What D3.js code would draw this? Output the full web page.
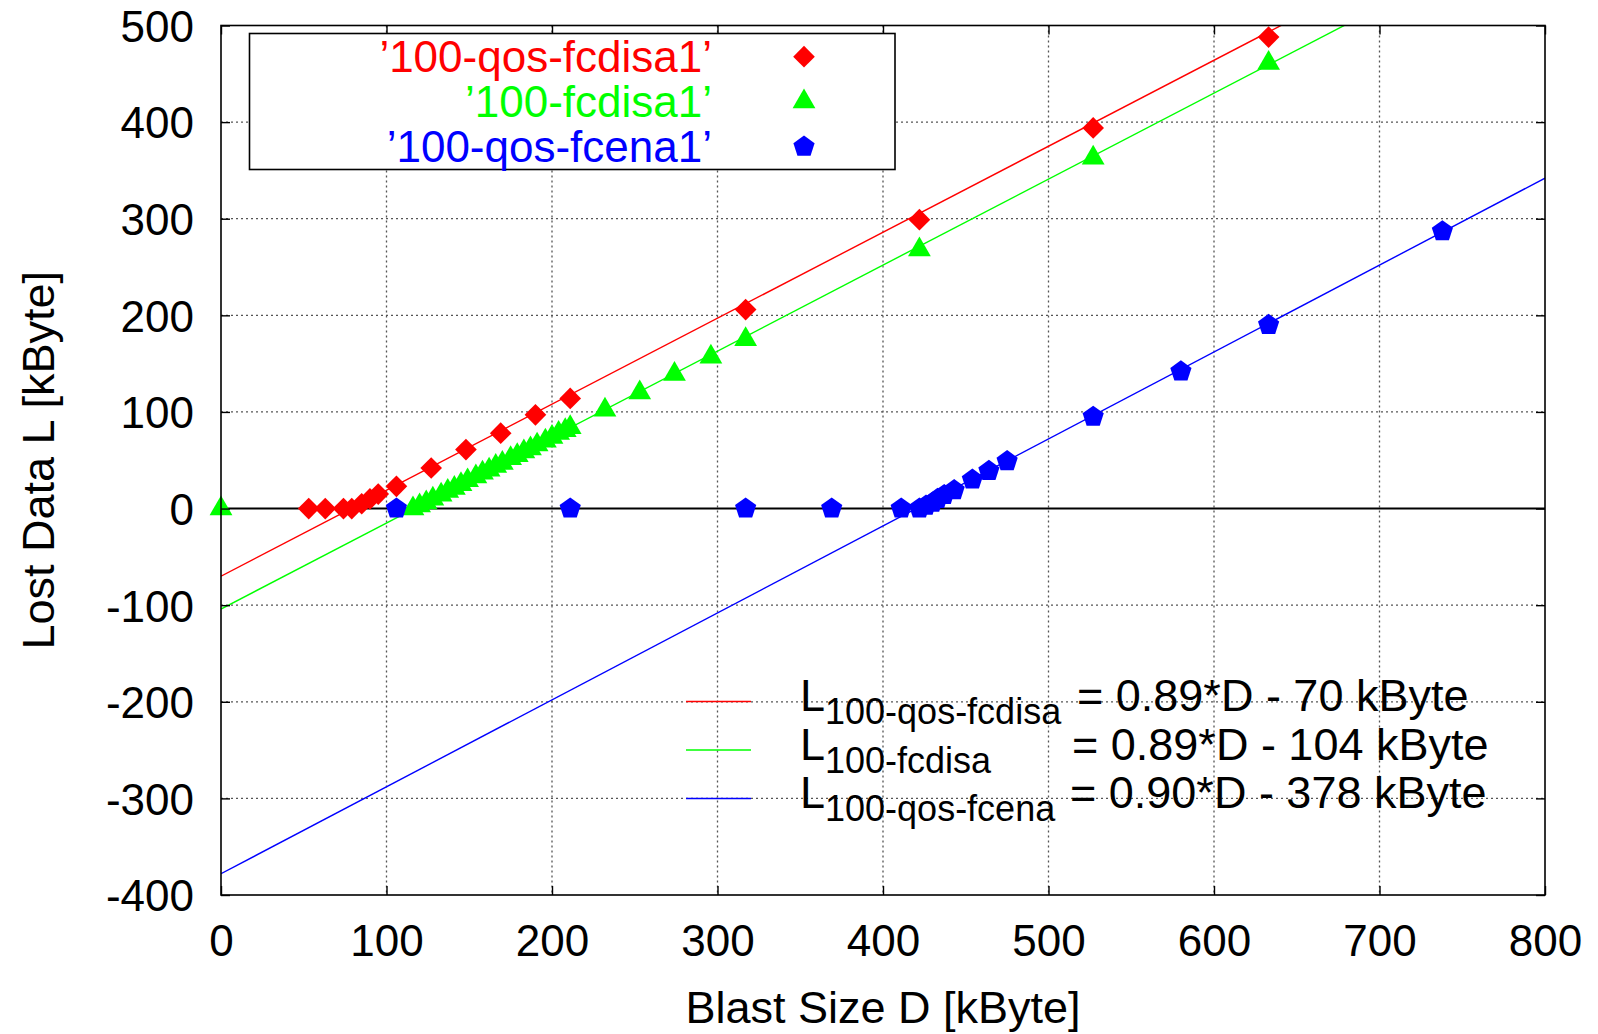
<!DOCTYPE html>
<html>
<head>
<meta charset="utf-8">
<script src="https://cdn.jsdelivr.net/npm/d3@7"></script>
<style>
  body { margin: 0; background: #fff; }
  text { font-family: "Liberation Sans", Arial, Helvetica, sans-serif; }
</style>
</head>
<body>
<div id="chart"></div>
<script>
// data (kByte)
const redX = [53, 63, 74, 79, 85, 90, 95, 106, 127, 148, 169, 190, 211, 317, 422, 527, 633];
const redY = [0, 0, 0, 0, 5, 10, 15, 23, 42, 61, 78, 97, 114, 206, 299, 394, 488];

const greenX = [0, 116, 120, 124, 128, 133, 137, 141, 145, 149, 154, 158, 162, 166, 170, 175, 179,
  183, 187, 191, 196, 200, 204, 208, 211, 232, 253, 274, 296, 317, 422, 527, 633];
const greenY = [0, 0, 3, 6, 10, 14, 18, 21, 25, 29, 33, 37, 40, 44, 47, 52, 55,
  59, 62, 66, 70, 74, 78, 81, 84, 102, 120, 139, 157, 175, 268, 363, 461];

const blueX = [106, 211, 317, 369, 411, 422, 426, 430, 433, 437, 443, 454, 464, 475, 527, 580, 633, 738];
const blueY = [0, 0, 0, 0, 0, 0, 3, 6, 10, 14, 19, 30, 39, 49, 95, 142, 190, 287];

const seriesNames = ["'100-qos-fcdisa1'", "'100-fcdisa1'", "'100-qos-fcena1'"].map(s => s.replace(/'/g, "\u2019"));
const seriesColors = ["#ff0000", "#00ff00", "#0000ff"];

// fitted lines L = a*D + b
const fitSlopes = [0.89, 0.89, 0.90];
const fitOffsets = [-70, -104, -378];
const fitSubs = ["100-qos-fcdisa", "100-fcdisa", "100-qos-fcena"];
const fitTexts = ["= 0.89*D - 70 kByte", "= 0.89*D - 104 kByte", "= 0.90*D - 378 kByte"];

const xTicks = [0, 100, 200, 300, 400, 500, 600, 700, 800];
const yTicks = [-400, -300, -200, -100, 0, 100, 200, 300, 400, 500];

const W = 1598, H = 1034;
const margin = { top: 25.5, right: 53, bottom: 139, left: 221 };

const svg = d3.select("#chart")
  .append("svg")
  .attr("width", W)
  .attr("height", H);

const x = d3.scaleLinear().domain([0, 800]).range([margin.left, W - margin.right]);
const y = d3.scaleLinear().domain([-400, 500]).range([H - margin.bottom, margin.top]);

// symbols
const symDiamond = {
  draw(ctx, size) {
    const h = Math.sqrt(size / 2);
    ctx.moveTo(0, -h); ctx.lineTo(h, 0); ctx.lineTo(0, h); ctx.lineTo(-h, 0); ctx.closePath();
  }
};
const symPentagon = {
  draw(ctx, size) {
    const r = Math.sqrt(size / 2.3776);
    for (let i = 0; i < 5; i++) {
      const a = -Math.PI / 2 + i * 2 * Math.PI / 5;
      if (i === 0) ctx.moveTo(r * Math.cos(a), r * Math.sin(a));
      else ctx.lineTo(r * Math.cos(a), r * Math.sin(a));
    }
    ctx.closePath();
  }
};
const symbolTypes = [symDiamond, d3.symbolTriangle, symPentagon];
const symbolSizes = [235, 225, 295];

svg.append("defs").append("clipPath").attr("id", "plotclip")
  .append("rect")
  .attr("x", x(0)).attr("y", y(500))
  .attr("width", x(800) - x(0)).attr("height", y(-400) - y(500));

// grid
const grid = svg.append("g");
grid.selectAll("line.vgrid")
  .data(xTicks.slice(1, -1))
  .enter().append("line")
  .attr("x1", d => x(d)).attr("x2", d => x(d))
  .attr("y1", y(500)).attr("y2", y(-400))
  .style("stroke", "#555").style("stroke-width", 1.3).style("stroke-dasharray", "2 3");
grid.selectAll("line.hgrid")
  .data(yTicks.filter(d => d !== 0 && d !== 500 && d !== -400))
  .enter().append("line")
  .attr("x1", x(0)).attr("x2", x(800))
  .attr("y1", d => y(d)).attr("y2", d => y(d))
  .style("stroke", "#555").style("stroke-width", 1.3).style("stroke-dasharray", "2 3");

// zero axis
svg.append("line")
  .attr("x1", x(0)).attr("x2", x(800))
  .attr("y1", y(0)).attr("y2", y(0))
  .style("stroke", "#000").style("stroke-width", 2);

// fit lines
const fits = svg.append("g").attr("clip-path", "url(#plotclip)");
fitSlopes.forEach((a, i) => {
  fits.append("line")
    .attr("x1", x(0)).attr("y1", y(fitOffsets[i]))
    .attr("x2", x(800)).attr("y2", y(a * 800 + fitOffsets[i]))
    .style("stroke", seriesColors[i]).style("stroke-width", 1.4);
});

// points
const series = [
  d3.zip(redX, redY),
  d3.zip(greenX, greenY),
  d3.zip(blueX, blueY)
];
series.forEach((pts, i) => {
  svg.append("g").selectAll("path")
    .data(pts)
    .enter().append("path")
    .attr("transform", d => `translate(${x(d[0])},${y(d[1])})`)
    .attr("d", d3.symbol().type(symbolTypes[i]).size(symbolSizes[i]))
    .attr("fill", seriesColors[i]);
});

// frame
svg.append("rect")
  .attr("x", x(0)).attr("y", y(500))
  .attr("width", x(800) - x(0)).attr("height", y(-400) - y(500))
  .attr("fill", "none").attr("stroke", "#000").attr("stroke-width", 1.6);

// axes (plain hyphen for negatives, like the original)
const tickFont = "44px";
const fmt = d => String(d);
svg.append("g")
  .attr("transform", `translate(0,${y(-400)})`)
  .call(d3.axisBottom(x).tickValues(xTicks).tickFormat(fmt).tickSizeInner(-9).tickSizeOuter(0).tickPadding(30))
  .call(g => g.select(".domain").remove())
  .call(g => g.selectAll("line").attr("stroke-width", 1.4))
  .selectAll("text").style("font-size", tickFont).attr("fill", "#000");

svg.append("g")
  .attr("transform", `translate(${x(0)},0)`)
  .call(d3.axisLeft(y).tickValues(yTicks).tickFormat(fmt).tickSizeInner(-9).tickSizeOuter(0).tickPadding(27))
  .call(g => g.select(".domain").remove())
  .call(g => g.selectAll("line").attr("stroke-width", 1.4))
  .selectAll("text").style("font-size", tickFont).attr("fill", "#000").attr("dy", "0.36em");

svg.append("g")
  .attr("transform", `translate(0,${y(500)})`)
  .call(d3.axisTop(x).tickValues(xTicks).tickSizeInner(-9).tickSizeOuter(0).tickFormat(""))
  .call(g => g.select(".domain").remove())
  .call(g => g.selectAll("line").attr("stroke-width", 1.4));

svg.append("g")
  .attr("transform", `translate(${x(800)},0)`)
  .call(d3.axisRight(y).tickValues(yTicks).tickSizeInner(-9).tickSizeOuter(0).tickFormat(""))
  .call(g => g.select(".domain").remove())
  .call(g => g.selectAll("line").attr("stroke-width", 1.4));

// axis titles
svg.append("text")
  .attr("x", (x(0) + x(800)) / 2)
  .attr("y", 1023)
  .attr("text-anchor", "middle")
  .style("font-size", "45px")
  .text("Blast Size D [kByte]");

svg.append("text")
  .attr("transform", `translate(54,${(y(500) + y(-400)) / 2}) rotate(-90)`)
  .attr("text-anchor", "middle")
  .style("font-size", "45px")
  .text("Lost Data L [kByte]");

// top legend (points)
const legend = svg.append("g");
legend.append("rect")
  .attr("x", 249.5).attr("y", 33.5)
  .attr("width", 645.5).attr("height", 136)
  .attr("fill", "#fff").attr("stroke", "#000").attr("stroke-width", 1.6);

seriesNames.forEach((name, i) => {
  const cy = 56.7 + i * 45;
  legend.append("text")
    .attr("x", 712).attr("y", cy + 15.5)
    .attr("text-anchor", "end")
    .style("font-size", "44px")
    .attr("fill", seriesColors[i])
    .text(name);
  legend.append("path")
    .attr("transform", `translate(804,${cy})`)
    .attr("d", d3.symbol().type(symbolTypes[i]).size(symbolSizes[i]))
    .attr("fill", seriesColors[i]);
});

// bottom legend (fit lines)
const eqX = [1077, 1072, 1070];
fitSubs.forEach((sub, i) => {
  const base = 711 + i * 48.5;
  legend.append("line")
    .attr("x1", 686).attr("x2", 751)
    .attr("y1", base - 9.5).attr("y2", base - 9.5)
    .style("stroke", seriesColors[i]).style("stroke-width", 1.4);
  const t = legend.append("text")
    .attr("x", 800).attr("y", base)
    .style("font-size", "45px");
  t.append("tspan").text("L");
  t.append("tspan").attr("dy", 13).style("font-size", "36px").text(sub);
  legend.append("text")
    .attr("x", eqX[i]).attr("y", base)
    .style("font-size", "45px")
    .text(fitTexts[i]);
});
</script>
</body>
</html>
